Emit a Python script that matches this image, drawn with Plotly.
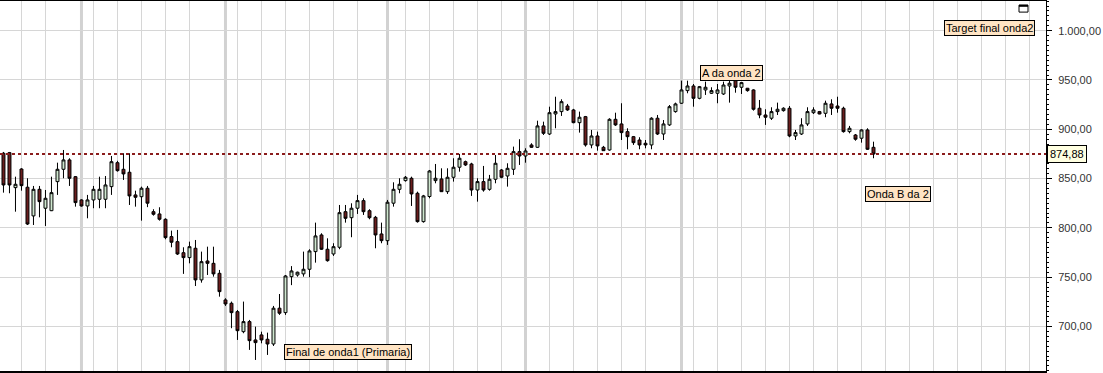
import plotly.graph_objects as go

# ---------------- data ----------------
opens = [875.7, 876.3, 840.8, 859.7, 841.2, 812.1, 839.1, 819.9, 817.4, 846.9,
         859.4, 868.9, 851.9, 828.3, 822.2, 828.3, 829.0, 829.0, 841.8, 866.1,
         859.4, 856.4, 833.4, 831.6, 840.2, 816.4, 814.1, 808.7, 791.1, 786.0,
         774.8, 769.8, 779.3, 747.2, 766.4, 764.0, 753.9, 726.9, 723.5, 715.0,
         694.7, 704.9, 686.3, 691.4, 687.0, 682.2, 718.5, 714.0, 750.5, 752.2,
         753.3, 758.0, 775.9, 792.8, 778.3, 773.5, 780.3, 816.4, 810.3, 819.9,
         827.6, 817.4, 810.7, 793.8, 787.0, 825.0, 839.1, 847.9, 850.3, 835.1,
         806.3, 831.8, 847.9, 849.6, 836.7, 851.3, 861.5, 867.1, 864.8, 838.4,
         846.9, 839.1, 849.3, 858.7, 852.6, 859.4, 877.3, 872.9, 884.1, 881.7,
         903.4, 895.2, 915.5, 917.9, 923.6, 919.6, 906.7, 912.8, 884.1, 893.2,
         881.7, 879.0, 910.1, 905.4, 897.6, 892.5, 889.1, 885.8, 884.1, 911.2,
         895.2, 904.4, 917.9, 926.4, 939.2, 943.9, 931.4, 939.9, 936.5, 936.5,
         935.8, 943.9, 949.3, 942.6, 941.6, 939.9, 921.3, 914.5, 911.2, 917.9,
         918.9, 921.3, 893.2, 895.2, 905.4, 916.8, 917.9, 916.2, 925.7, 923.6,
         921.3, 897.6, 894.2, 890.9, 899.3, 881.7]
highs = [877.0, 877.0, 851.9, 860.5, 850.3, 842.5, 842.5, 838.4, 851.9, 866.1,
         879.0, 870.6, 852.6, 829.0, 833.4, 842.5, 851.9, 852.6, 872.9, 868.0,
         875.7, 875.7, 837.7, 841.8, 842.5, 818.9, 820.9, 809.7, 797.2, 797.9,
         780.3, 786.0, 787.7, 775.9, 780.9, 780.9, 757.3, 728.6, 725.2, 716.7,
         725.2, 706.6, 699.8, 694.7, 693.7, 720.8, 732.9, 752.2, 761.2, 755.6,
         775.9, 778.3, 805.3, 794.5, 789.4, 784.4, 823.2, 823.2, 824.9, 833.4,
         830.0, 818.9, 812.1, 805.3, 828.3, 846.2, 850.3, 852.6, 851.9, 836.7,
         833.4, 858.7, 864.8, 860.4, 860.4, 870.6, 875.0, 868.2, 866.0, 850.3,
         862.8, 853.7, 873.9, 859.7, 865.5, 882.4, 889.9, 880.7, 885.8, 908.7,
         907.7, 922.9, 933.0, 930.4, 925.7, 920.7, 917.9, 913.5, 899.3, 897.6,
         883.1, 911.2, 916.8, 926.4, 901.0, 893.2, 891.9, 889.1, 912.2, 914.5,
         909.4, 924.6, 927.0, 949.3, 949.3, 945.9, 943.9, 948.3, 942.6, 945.9,
         948.3, 949.3, 953.3, 948.0, 941.9, 940.6, 929.7, 920.3, 922.3, 927.0,
         922.3, 923.6, 899.3, 911.2, 922.3, 922.3, 918.6, 929.0, 930.4, 933.0,
         922.9, 903.4, 895.2, 900.0, 901.0, 887.4]
lows = [835.7, 835.1, 816.4, 837.7, 802.9, 802.9, 810.7, 801.9, 817.0, 833.4,
        850.3, 842.5, 821.5, 821.5, 809.7, 819.9, 819.9, 819.9, 833.4, 857.0,
        848.6, 823.2, 821.5, 807.3, 821.0, 812.4, 807.3, 788.4, 780.3, 772.5,
        753.3, 764.0, 741.0, 744.4, 752.2, 750.5, 730.2, 720.8, 698.2, 686.3,
        693.1, 676.2, 666.0, 682.9, 671.1, 680.2, 711.7, 711.7, 741.9, 750.5,
        750.5, 749.9, 764.7, 777.6, 765.7, 771.5, 778.3, 805.3, 790.5, 814.1,
        813.1, 808.7, 779.3, 784.4, 782.7, 821.5, 835.1, 846.9, 822.2, 805.3,
        805.3, 830.0, 845.2, 836.4, 834.4, 846.9, 857.0, 862.8, 832.4, 826.6,
        836.7, 837.7, 845.2, 850.3, 841.8, 853.7, 863.8, 866.1, 881.0, 881.0,
        894.2, 894.2, 901.0, 913.5, 918.6, 906.1, 896.6, 882.4, 880.7, 878.3,
        878.0, 878.3, 903.4, 889.1, 879.7, 884.1, 879.7, 880.7, 879.7, 894.2,
        889.1, 903.4, 916.8, 925.7, 936.5, 922.9, 930.4, 934.8, 935.8, 926.4,
        934.8, 927.0, 937.1, 935.8, 938.1, 918.9, 911.2, 904.4, 909.4, 914.5,
        917.9, 891.9, 889.1, 894.2, 903.4, 915.5, 915.2, 912.2, 914.5, 916.8,
        896.6, 895.9, 888.4, 886.4, 879.0, 870.6]
closes = [843.5, 843.5, 844.2, 842.8, 803.9, 839.1, 826.6, 830.0, 835.7, 859.4,
          868.9, 850.3, 825.6, 822.2, 828.3, 839.1, 839.1, 843.5, 867.1, 858.0,
          854.7, 832.4, 831.0, 840.2, 825.0, 813.8, 808.7, 790.1, 785.4, 773.5,
          769.8, 780.9, 747.2, 765.7, 764.0, 753.3, 735.3, 722.8, 714.0, 695.7,
          704.9, 685.6, 683.6, 686.3, 682.2, 718.5, 713.4, 751.2, 756.3, 755.0,
          758.0, 776.6, 791.8, 778.3, 766.7, 780.9, 815.4, 809.7, 819.9, 827.6,
          816.4, 810.3, 792.8, 787.0, 826.0, 839.1, 844.2, 851.3, 834.4, 806.3,
          832.4, 857.7, 850.3, 836.7, 851.3, 861.5, 870.6, 863.8, 838.4, 846.9,
          838.4, 849.3, 865.5, 851.3, 860.4, 877.3, 872.9, 878.0, 881.7, 903.4,
          895.9, 916.8, 917.9, 928.0, 919.6, 906.7, 912.2, 884.1, 893.2, 883.1,
          878.3, 910.1, 904.4, 896.6, 892.5, 886.4, 884.1, 884.1, 911.2, 895.2,
          905.4, 922.9, 925.7, 939.9, 943.9, 931.4, 943.2, 942.6, 939.2, 939.9,
          944.9, 946.7, 942.6, 947.3, 939.2, 920.3, 914.5, 912.2, 917.9, 920.3,
          921.3, 893.2, 896.6, 904.4, 917.9, 919.6, 915.5, 926.4, 921.3, 921.3,
          897.6, 901.0, 889.9, 899.3, 879.7, 874.88]
bars = list(range(len(closes)))

# vertical grid positions (bar index) : weekly and month separators
grid_week = [3, 7, 15, 19, 23, 27, 31, 39, 43, 47, 51, 55, 59, 67, 71, 75, 79, 83,
             91, 95, 99, 103, 107, 115, 119, 123, 127, 131, 135, 139, 143, 147, 151,
             155, 159, 163, 167, 171]
grid_month = [13, 37, 64, 87, 113]

y_ticks = [700, 750, 800, 850, 900, 950, 1000]

# text labels: (text, x bar index, y value, xanchor)
labels = [
    ("Target final onda2", 171.9, 1003.2, "right"),
    ("A da onda 2", 121.3, 956.6, "center"),
    ("Onda B da 2", 143.6, 833.9, "left"),
    ("Final de onda1 (Primaria)", 46.8, 674.1, "left"),
]

FONT = "Liberation Sans, Arial, sans-serif"

fig = go.Figure()
fig.add_trace(go.Candlestick(
    x=bars, open=opens, high=highs, low=lows, close=closes,
    increasing=dict(line=dict(color="black", width=1), fillcolor="#cfe7cf"),
    decreasing=dict(line=dict(color="black", width=1), fillcolor="#6b1e1e"),
    whiskerwidth=0, showlegend=False, hoverinfo="skip",
))

shapes = []
for g in grid_month:
    shapes.append(dict(type="line", xref="x", yref="paper", x0=g, x1=g, y0=0, y1=1,
                       line=dict(color="#d2d2d2", width=3), layer="below"))
last = closes[-1]
shapes.append(dict(type="line", xref="paper", yref="y", x0=0, x1=1, y0=last, y1=last,
                   line=dict(color="#8b1c1c", width=2, dash="dot")))
# small window-like box at top right
shapes.append(dict(type="rect", xref="paper", yref="paper", x0=0.9742, x1=0.9828,
                   y0=0.970, y1=0.989, line=dict(color="black", width=1),
                   fillcolor="white"))
shapes.append(dict(type="line", xref="paper", yref="paper", x0=0.9742, x1=0.9828,
                   y0=0.987, y1=0.987, line=dict(color="black", width=2)))

annotations = []
for text, xv, yv, anchor in labels:
    annotations.append(dict(
        text=text, x=xv, y=yv, xref="x", yref="y", xanchor=anchor, yanchor="middle",
        showarrow=False, bgcolor="#ffe4c4", bordercolor="black", borderwidth=1,
        borderpad=1, font=dict(family=FONT, size=11, color="black")))
annotations.append(dict(
    text=f"{last:.2f}".replace(".", ","), x=1, y=last, xref="paper", yref="y",
    xanchor="left", yanchor="middle", xshift=1, showarrow=False,
    bgcolor="#ffffe1", bordercolor="black", borderwidth=1, borderpad=2,
    font=dict(family=FONT, size=11, color="black")))

fig.update_layout(
    width=1103, height=373,
    margin=dict(l=0, r=57, t=1, b=2),
    paper_bgcolor="white", plot_bgcolor="white",
    separators=",.",
    shapes=shapes, annotations=annotations,
    xaxis=dict(range=[-0.58, 173.75], tickmode="array", tickvals=grid_week,
               showticklabels=False, ticks="", showgrid=True, gridcolor="#d6d6d6",
               gridwidth=1, zeroline=False, showline=True, mirror=True,
               linecolor="black", linewidth=2, rangeslider=dict(visible=False),
               fixedrange=True),
    yaxis=dict(range=[654.8, 1030.1], side="right", tickmode="array", tickvals=y_ticks,
               tickformat=",.2f", showgrid=True, gridcolor="#d6d6d6", gridwidth=1,
               zeroline=False, showline=True, linecolor="black", linewidth=1,
               ticks="outside", ticklen=5, tickcolor="black",
               minor=dict(ticks="outside", ticklen=2, dtick=5, tick0=0,
                          tickcolor="black", showgrid=False),
               ticklabelstandoff=4,
               tickfont=dict(family=FONT, size=11, color="#333333"),
               fixedrange=True),
)

fig.write_html("out.html")
